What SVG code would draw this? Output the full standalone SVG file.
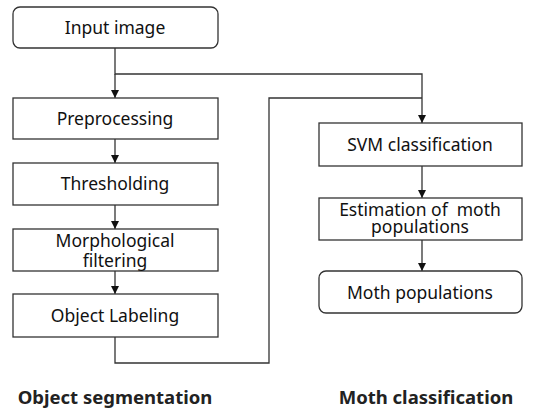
<svg xmlns="http://www.w3.org/2000/svg" width="534" height="408" viewBox="0 0 534 408">
<defs>
<marker id="arr" markerWidth="8" markerHeight="8" refX="8" refY="4" orient="auto" markerUnits="userSpaceOnUse" viewBox="0 0 8 8">
<path d="M0,0 L8,4 L0,8 Z" fill="#111"/>
</marker>
</defs>
<style>
.box{fill:#fff;stroke:#333;stroke-width:1.3}
.t{font-family:"Noto Sans","Open Sans",sans-serif;font-size:17.5px;fill:#111;text-anchor:middle}
.b{font-family:"Noto Sans","Open Sans",sans-serif;font-size:18.5px;font-weight:bold;fill:#222;text-anchor:middle}
.c{fill:none;stroke:#333;stroke-width:1.3}
</style>
<rect width="534" height="408" fill="#fff"/>
<g id="connectors">
<path class="c" d="M115,48 V74 H422 V123" marker-end="url(#arr)"/>
<path class="c" d="M115,74 V98" marker-end="url(#arr)"/>
<path class="c" d="M115,139 V163" marker-end="url(#arr)"/>
<path class="c" d="M115,205 V229" marker-end="url(#arr)"/>
<path class="c" d="M115,271 V294" marker-end="url(#arr)"/>
<path class="c" d="M115,337 V363 H269 V98 H422"/>
<path class="c" d="M422,166 V198" marker-end="url(#arr)"/>
<path class="c" d="M422,240 V271" marker-end="url(#arr)"/>
</g>
<g id="input-image">
<rect class="box" x="13" y="7" width="205" height="41" rx="7"/>
<text class="t" x="115" y="34">Input image</text>
</g>
<g id="preprocessing">
<rect class="box" x="13" y="98" width="205" height="41"/>
<text class="t" x="115" y="125">Preprocessing</text>
</g>
<g id="thresholding">
<rect class="box" x="13" y="163" width="205" height="42"/>
<text class="t" x="115" y="190">Thresholding</text>
</g>
<g id="morphological-filtering">
<rect class="box" x="13" y="229" width="205" height="42"/>
<text class="t" x="115" y="247">Morphological</text>
<text class="t" x="115" y="266.5">filtering</text>
</g>
<g id="object-labeling">
<rect class="box" x="13" y="294" width="205" height="43"/>
<text class="t" x="115" y="321.5">Object Labeling</text>
</g>
<g id="svm-classification">
<rect class="box" x="319" y="123" width="203" height="43"/>
<text class="t" x="420" y="151">SVM classification</text>
</g>
<g id="estimation">
<rect class="box" x="319" y="198" width="203" height="42"/>
<text class="t" x="420" y="215.5" style="white-space:pre">Estimation of  moth</text>
<text class="t" x="420" y="233">populations</text>
</g>
<g id="moth-populations">
<rect class="box" x="319" y="271" width="203" height="42" rx="7"/>
<text class="t" x="420" y="298.5">Moth populations</text>
</g>
<g id="labels">
<text class="b" x="115" y="404">Object segmentation</text>
<text class="b" x="426" y="404">Moth classification</text>
</g>
</svg>
